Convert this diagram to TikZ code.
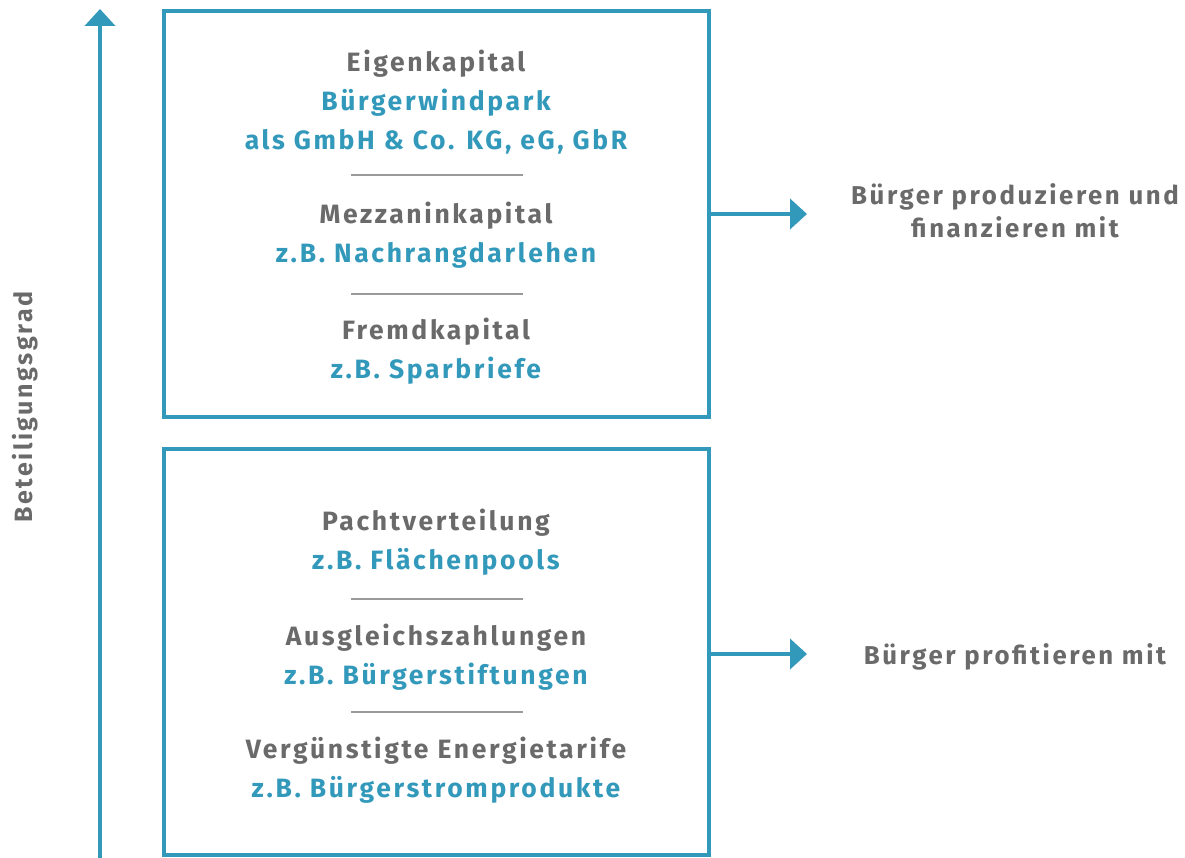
\documentclass[tikz,border=0pt]{standalone}
\usepackage{fontspec}
\setmainfont[LetterSpace=10]{Fira Sans}
\usetikzlibrary{arrows.meta}
\definecolor{teal}{HTML}{3399BB}
\definecolor{txtgray}{HTML}{6A6A6A}
\definecolor{sepgray}{HTML}{9A9A9A}
\tikzset{
  box/.style={draw=teal, line width=4pt, minimum width=545pt, inner sep=0pt},
  head/.style={text=txtgray, font=\fontsize{26.5}{30}\selectfont\bfseries, inner sep=0pt, anchor=base},
  sub/.style={text=teal, font=\fontsize{26.5}{30}\selectfont\bfseries, inner sep=0pt, anchor=base},
  side/.style={text=txtgray, font=\fontsize{25.8}{30}\selectfont\bfseries, inner sep=0pt, anchor=base},
  vlabel/.style={text=txtgray, font=\fontsize{25}{29}\selectfont\bfseries, inner sep=0pt},
  sep/.style={draw=sepgray, line width=1.5pt},
  conn/.style={draw=teal, line width=4pt, -{Triangle[width=30pt,length=17pt]}},
}
\begin{document}
\begin{tikzpicture}[x=1pt,y=-1pt]
\useasboundingbox (0,0) rectangle (1185,858);
% boxes
\node[box, minimum height=406pt] (top) at (436.5,214) {};
\node[box, minimum height=406pt] (bot) at (436.5,652) {};
% vertical arrow
\coordinate (vbot) at (100,860);
\coordinate (vtop) at (100,9);
\draw[conn] (vbot) -- (vtop);
\node[vlabel, rotate=90, anchor=center] (grad) at (25,407) {Beteiligungsgrad};
% top box texts
\node[head] (t1) at (436,72) {Eigenkapital};
\node[sub] (t2) at (436,111) {Bürgerwindpark};
\node[sub] (t3) at (436,150) {als GmbH \& Co. KG, eG, GbR};
\coordinate (s1a) at (351,175); \coordinate (s1b) at (523,175);
\draw[sep] (s1a) -- (s1b);
\node[head] (t4) at (436,224) {Mezzaninkapital};
\node[sub] (t5) at (436,263) {z.B. Nachrangdarlehen};
\coordinate (s2a) at (351,294); \coordinate (s2b) at (523,294);
\draw[sep] (s2a) -- (s2b);
\node[head] (t6) at (436,339) {Fremdkapital};
\node[sub] (t7) at (436,378) {z.B. Sparbriefe};
% bottom box texts
\node[head] (b1) at (436,530) {Pachtverteilung};
\node[sub] (b2) at (436,569) {z.B. Flächenpools};
\coordinate (s3a) at (351,599); \coordinate (s3b) at (523,599);
\draw[sep] (s3a) -- (s3b);
\node[head] (b3) at (436,645) {Ausgleichszahlungen};
\node[sub] (b4) at (436,684) {z.B. Bürgerstiftungen};
\coordinate (s4a) at (351,712); \coordinate (s4b) at (523,712);
\draw[sep] (s4a) -- (s4b);
\node[head] (b5) at (436,758) {Vergünstigte Energietarife};
\node[sub] (b6) at (436,797) {z.B. Bürgerstromprodukte};
% right arrows and texts
\coordinate (a1) at (807,214);
\coordinate (a2) at (807,654);
\draw[conn] (top.east) -- (a1);
\draw[conn] (bot.east |- a2) -- (a2);
\node[side] (r1) at (1015,205) {Bürger produzieren und};
\node[side] (r2) at (1015,238) {finanzieren mit};
\node[side] (r3) at (1015,664) {Bürger profitieren mit};
\end{tikzpicture}
\end{document}
